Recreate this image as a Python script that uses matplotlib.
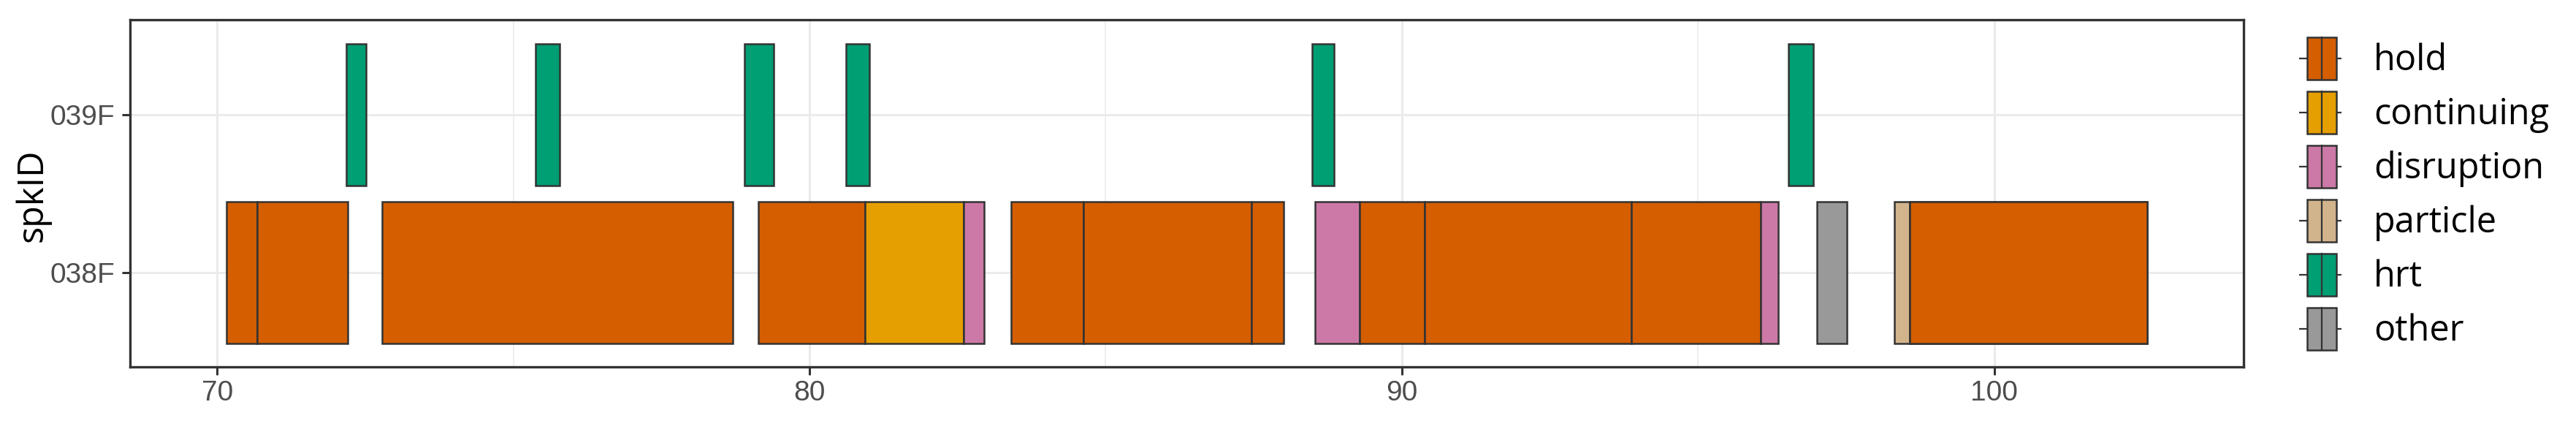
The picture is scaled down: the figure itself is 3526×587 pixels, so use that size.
import matplotlib
matplotlib.use("Agg")
import matplotlib.pyplot as plt
from matplotlib.patches import Rectangle

# event segments (seconds)
spk_ids = ["038F", "039F"]
seg_spk = ["038F"] * 18 + ["039F"] * 6
seg_event = [
    "hold", "hold", "hold", "hold", "continuing", "disruption",
    "hold", "hold", "hold", "disruption", "hold", "hold", "hold",
    "disruption", "other", "particle", "hold",
    "hold",
    "hrt", "hrt", "hrt", "hrt", "hrt", "hrt",
]
seg_start = [
    70.15, 70.68, 72.78, 79.14, 80.94, 82.60,
    83.40, 84.63, 87.46, 88.53, 89.29, 90.39, 93.88,
    96.06, 97.01, 98.32, 98.57,
    98.57,
    72.18, 75.37, 78.90, 80.61, 88.48, 96.53,
]
seg_end = [
    70.68, 72.20, 78.71, 80.94, 82.60, 82.95,
    84.63, 87.46, 88.00, 89.29, 90.39, 93.88, 96.06,
    96.36, 97.51, 98.57, 102.59,
    102.59,
    72.51, 75.78, 79.39, 81.01, 88.85, 96.95,
]

events = ["hold", "continuing", "disruption", "particle", "hrt", "other"]
event_colors = ["#D55E00", "#E69F00", "#CC79A7", "#D2B48C", "#009E73", "#999999"]
x_ticks = [70, 80, 90, 100]

EDGE = "#333333"
GRID = "#EBEBEB"
TICK_TXT = "#4D4D4D"

W, H = 3526, 587
fig = plt.figure(figsize=(W / 100, H / 100), dpi=100, facecolor="white")

# panel placed in pixel terms
left, right, top, bottom = 178, 3071, 27.1, 502.3
ax = fig.add_axes([left / W, (H - bottom) / H, (right - left) / W, (bottom - top) / H])

color_of = dict(zip(events, event_colors))
ypos = {s: i for i, s in enumerate(spk_ids)}
for spk, ev, s, e in zip(seg_spk, seg_event, seg_start, seg_end):
    ax.barh(ypos[spk], e - s, left=s, height=0.9, color=color_of[ev],
            edgecolor=EDGE, linewidth=1.8, zorder=3)

lo, hi = min(seg_start), max(seg_end)
pad = (hi - lo) * 0.05
ax.set_xlim(lo - pad, hi + pad)
ax.set_ylim(-0.6, 1.6)
ax.set_yticks(range(len(spk_ids)))
ax.set_yticklabels(spk_ids)
ax.set_xticks(x_ticks)
ax.set_xticks([75, 85, 95], minor=True)

ax.grid(True, which="major", color=GRID, linewidth=2.2, zorder=0)
ax.grid(True, which="minor", axis="x", color=GRID, linewidth=1.2, zorder=0)
ax.set_axisbelow(True)

for sp in ax.spines.values():
    sp.set_color(EDGE)
    sp.set_linewidth(2.4)
ax.tick_params(axis="both", which="major", length=8, width=2.2, color=EDGE,
               labelcolor=TICK_TXT, labelsize=28)
ax.tick_params(axis="x", which="major", pad=5)
ax.tick_params(axis="y", which="major", pad=7)
ax.tick_params(axis="x", which="minor", length=0)
for lab in ax.get_xticklabels() + ax.get_yticklabels():
    lab.set_family("Liberation Sans")

fig.text(44.5 / W, 1 - 267 / H, "spkID", rotation=90, ha="center", va="center",
         fontsize=35, family="Open Sans", color="black")

# legend drawn in pixel space
lax = fig.add_axes([0, 0, 1, 1])
lax.set_xlim(0, W)
lax.set_ylim(H, 0)
lax.axis("off")
lax.patch.set_alpha(0)
for i, (ev, col) in enumerate(zip(events, event_colors)):
    cy = 80 + i * 74
    lax.plot([3146.7, 3157.7], [cy, cy], color=EDGE, lw=1.6, solid_capstyle="butt")
    lax.plot([3197.7, 3205], [cy, cy], color=EDGE, lw=1.6, solid_capstyle="butt")
    lax.add_patch(Rectangle((3157.7, cy - 29.3), 40, 58.6, facecolor=col,
                            edgecolor=EDGE, lw=1.8))
    lax.plot([3177.7, 3177.7], [cy - 29.3, cy + 29.3], color=EDGE, lw=1.6)
    lax.text(3249, cy + 16, ev, ha="left", va="baseline", fontsize=35,
             family="Open Sans", color="black")

fig.savefig("out.png", dpi=100, facecolor="white")
